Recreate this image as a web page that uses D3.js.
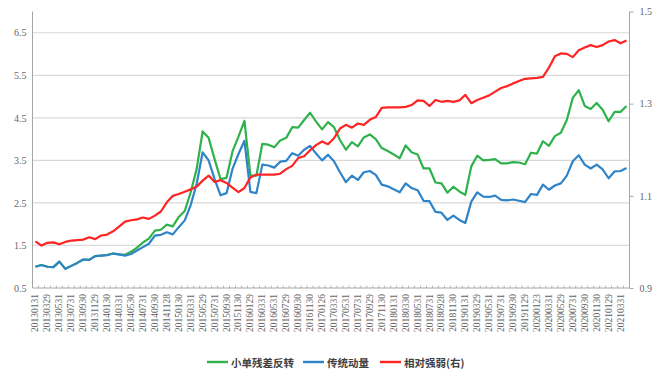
<!DOCTYPE html>
<html><head><meta charset="utf-8">
<script src="https://cdn.jsdelivr.net/npm/d3@7"></script>
<style>
html,body{margin:0;padding:0;background:#fff;}
svg{display:block;}
</style></head>
<body>
<svg id="chart" width="657" height="375"></svg>
<script>
const dates = ["20130131","20130228","20130329","20130426","20130531","20130628","20130731","20130830","20130930","20131031",
"20131129","20131231","20140130","20140228","20140331","20140430","20140530","20140630","20140731","20140829",
"20140930","20141031","20141128","20141231","20150130","20150227","20150331","20150430","20150529","20150630",
"20150731","20150831","20150930","20151030","20151130","20151231","20160129","20160229","20160331","20160429",
"20160531","20160630","20160729","20160831","20160930","20161031","20161130","20161230","20170126","20170228",
"20170331","20170428","20170531","20170630","20170731","20170831","20170929","20171031","20171130","20171229",
"20180131","20180228","20180330","20180427","20180531","20180629","20180731","20180831","20180928","20181031",
"20181130","20181228","20190131","20190228","20190329","20190430","20190531","20190628","20190731","20190830",
"20190930","20191031","20191129","20191231","20200123","20200228","20200331","20200430","20200529","20200630",
"20200731","20200831","20200930","20201030","20201130","20201231","20210129","20210226","20210331","20210430"];

const smallReversal = [1.00,1.04,1.00,0.99,1.12,0.95,1.02,1.09,1.17,1.16,
1.25,1.26,1.28,1.31,1.29,1.28,1.35,1.45,1.57,1.66,
1.85,1.87,1.99,1.95,2.17,2.31,2.75,3.30,4.18,4.03,
3.53,3.06,3.09,3.71,4.06,4.43,3.14,3.14,3.89,3.87,
3.81,3.97,4.03,4.28,4.27,4.45,4.62,4.41,4.23,4.40,
4.28,3.98,3.75,3.93,3.83,4.04,4.11,4.00,3.79,3.72,
3.64,3.55,3.85,3.69,3.64,3.31,3.31,2.98,2.96,2.74,
2.88,2.77,2.69,3.36,3.61,3.50,3.51,3.53,3.43,3.43,
3.46,3.45,3.41,3.68,3.66,3.95,3.84,4.07,4.15,4.45,
4.97,5.15,4.78,4.71,4.85,4.69,4.42,4.64,4.64,4.78];

const momentum = [1.00,1.04,1.00,0.99,1.12,0.95,1.02,1.09,1.17,1.16,
1.25,1.26,1.27,1.31,1.29,1.26,1.30,1.38,1.46,1.54,
1.73,1.75,1.81,1.76,1.93,2.09,2.45,2.95,3.69,3.50,
3.06,2.68,2.73,3.30,3.65,3.96,2.76,2.73,3.40,3.38,
3.33,3.47,3.49,3.67,3.61,3.75,3.84,3.66,3.50,3.63,
3.48,3.22,2.99,3.14,3.04,3.22,3.25,3.16,2.93,2.89,
2.82,2.75,2.96,2.85,2.80,2.55,2.54,2.29,2.27,2.10,
2.20,2.10,2.03,2.53,2.75,2.65,2.64,2.67,2.57,2.56,
2.58,2.55,2.52,2.71,2.69,2.93,2.81,2.91,2.96,3.14,
3.48,3.62,3.40,3.31,3.40,3.29,3.08,3.24,3.25,3.32];

const relStrength = [1.001,0.992,0.998,0.999,0.995,1.000,1.003,1.004,1.005,1.010,
1.006,1.014,1.016,1.023,1.033,1.044,1.047,1.049,1.053,1.050,
1.057,1.066,1.086,1.100,1.104,1.109,1.114,1.120,1.133,1.144,
1.130,1.134,1.128,1.118,1.108,1.117,1.140,1.146,1.146,1.146,
1.146,1.148,1.158,1.165,1.182,1.186,1.199,1.210,1.218,1.212,
1.225,1.246,1.254,1.248,1.257,1.254,1.265,1.271,1.291,1.292,
1.292,1.292,1.293,1.297,1.307,1.306,1.295,1.308,1.304,1.306,
1.304,1.307,1.319,1.301,1.308,1.313,1.318,1.326,1.334,1.338,
1.344,1.349,1.354,1.355,1.356,1.358,1.378,1.403,1.409,1.408,
1.401,1.416,1.422,1.427,1.423,1.427,1.435,1.438,1.431,1.437];

const leftTicks = [0.5,1.5,2.5,3.5,4.5,5.5,6.5];
const rightTicks = [0.9,1.1,1.3,1.5];
const seriesNames = ["小单残差反转","传统动量","相对强弱(右)"];
const seriesColors = ["#2fb24c","#2f84c8","#ff2424"];

const svg = d3.select("#chart");
const L = 32.5, R = 629.5, T = 11.5, B = 288;
const x = d3.scaleBand().domain(dates).range([L, R]);
const xc = d => x(d) + x.bandwidth()/2;
const yL = d3.scaleLinear().domain([0.5, 7.0]).range([B, T]);
const yR = d3.scaleLinear().domain([0.9, 1.5]).range([B, T]);
const serif = "'Liberation Serif','Times New Roman',serif";

// gridlines
svg.append("g").selectAll("line").data(leftTicks.slice(1)).join("line")
  .attr("x1", L).attr("x2", R).attr("y1", d => yL(d)).attr("y2", d => yL(d))
  .attr("stroke", "#d9d9d9").attr("stroke-width", 1.2);

// left axis
const gL = svg.append("g").attr("transform", `translate(${L},0)`)
  .call(d3.axisLeft(yL).tickValues(leftTicks).tickSize(0).tickPadding(6).tickFormat(d3.format(".1f")));
gL.select(".domain").attr("stroke", "#a6a6a6").attr("d", `M0,${T}V${B}`);
gL.selectAll("text").attr("font-family", serif).attr("font-size", 10).attr("fill", "#666");

// right axis
const gR = svg.append("g").attr("transform", `translate(${R},0)`)
  .call(d3.axisRight(yR).tickValues(rightTicks).tickSize(4).tickPadding(6).tickFormat(d3.format(".1f")));
gR.select(".domain").attr("stroke", "#a6a6a6").attr("d", `M0,${T}V${B}`);
gR.selectAll("line").attr("stroke", "#a6a6a6");
gR.selectAll("text").attr("font-family", serif).attr("font-size", 10).attr("fill", "#666");

// bottom axis
const gB = svg.append("g").attr("transform", `translate(0,${B})`)
  .call(d3.axisBottom(x).tickValues(dates.filter((d,i) => i % 2 === 0)).tickSize(0).tickPadding(0));
gB.select(".domain").attr("stroke", "#a6a6a6").attr("d", `M${L},0H${R}`);
gB.selectAll("text")
  .attr("font-family", serif).attr("font-size", 9.5).attr("fill", "#666")
  .attr("text-anchor", "end").attr("dy", null)
  .attr("transform", "translate(0,6) rotate(-90)")
  .attr("x", 0).attr("y", 0)
  .attr("dominant-baseline", "central");
// minor category ticks
svg.append("g").selectAll("line").data(dates).join("line")
  .attr("x1", d => x(d)).attr("x2", d => x(d)).attr("y1", B).attr("y2", B - 2.5)
  .attr("stroke", "#a6a6a6").attr("stroke-width", 0.8);

// lines
const lineL = d3.line().x((d,i) => xc(dates[i])).y(d => yL(d));
const lineR = d3.line().x((d,i) => xc(dates[i])).y(d => yR(d));
svg.append("path").datum(smallReversal).attr("d", lineL)
  .attr("fill", "none").attr("stroke", seriesColors[0]).attr("stroke-width", 2.2).attr("stroke-linejoin", "round");
svg.append("path").datum(momentum).attr("d", lineL)
  .attr("fill", "none").attr("stroke", seriesColors[1]).attr("stroke-width", 2.2).attr("stroke-linejoin", "round");
svg.append("path").datum(relStrength).attr("d", lineR)
  .attr("fill", "none").attr("stroke", seriesColors[2]).attr("stroke-width", 2.2).attr("stroke-linejoin", "round");

// legend
const legendX = [207, 303, 380];
const lg = svg.append("g");
seriesNames.forEach((n, i) => {
  lg.append("line").attr("x1", legendX[i]).attr("x2", legendX[i] + 21)
    .attr("y1", 362).attr("y2", 362).attr("stroke", seriesColors[i]).attr("stroke-width", 2.4);
  lg.append("text").attr("x", legendX[i] + 24).attr("y", 362)
    .attr("dominant-baseline", "central")
    .attr("font-family", "'Noto Sans CJK SC',sans-serif").attr("font-size", 10.5)
    .attr("font-weight", "bold").attr("fill", "#404040").text(n);
});
</script>
</body></html>
